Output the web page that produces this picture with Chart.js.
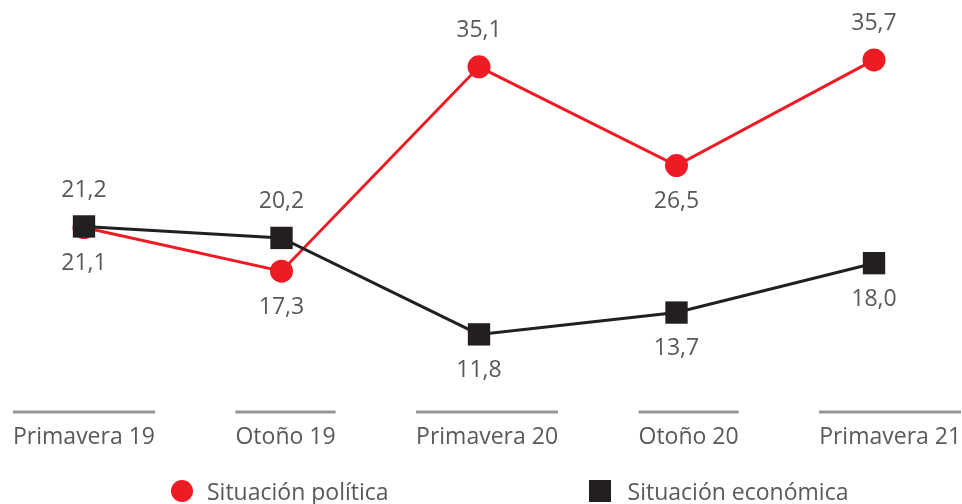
<!DOCTYPE html>
<html>
<head>
<meta charset="utf-8">
<script src="https://cdn.jsdelivr.net/npm/chart.js@4.4.1/dist/chart.umd.min.js"></script>
<style>
  html, body { margin: 0; padding: 0; background: #ffffff; }
  #wrap { position: relative; width: 962px; height: 504px; overflow: hidden; }
  #c { display: block; }
  #legend { position: absolute; left: 171px; top: 475px; height: 32px; display: flex; align-items: center;
            font-family: 'Open Sans', sans-serif; font-size: 23px; color: #58595B; white-space: nowrap; }
  .item { display: flex; align-items: center; }
  .item + .item { margin-left: 200px; }
  .mark { width: 22px; height: 22px; flex: none; }
  .mark.circle { border-radius: 50%; }
  .item .txt { margin-left: 14px; line-height: 32px; }
  .item + .item .txt { margin-left: 17px; }
</style>
</head>
<body>
<div id="wrap">
  <canvas id="c" width="962" height="504"></canvas>
  <div id="legend"></div>
</div>
<script>
// ---- data ----
const categories = ['Primavera 19', 'Otoño 19', 'Primavera 20', 'Otoño 20', 'Primavera 21'];
const seriesNames = ['Situación política', 'Situación económica'];
const politica = [21.1, 17.3, 35.1, 26.5, 35.7];
const economica = [21.2, 20.2, 11.8, 13.7, 18.0];

// ---- style ----
const RED = '#ED1C24';
const BLACK = '#231F20';
const TEXT = '#58595B';
const RULE = '#939598';
const FONT = "'Open Sans', sans-serif";

const valueLabels = {
  id: 'valueLabels',
  afterDatasetsDraw(chart) {
    const ctx = chart.ctx;
    ctx.save();
    ctx.font = "23px " + FONT;
    ctx.fillStyle = TEXT;
    ctx.textAlign = 'center';
    ctx.textBaseline = 'middle';
    chart.data.datasets.forEach((ds, di) => {
      const meta = chart.getDatasetMeta(di);
      meta.data.forEach((pt, i) => {
        const above = ds.labelAlign[i] === 'above';
        const y = pt.y + (above ? -ds.labelOffset : ds.labelOffset);
        ctx.fillText(ds.data[i].toFixed(1).replace('.', ','), pt.x, y);
      });
    });
    ctx.restore();
  }
};

const tickRules = {
  id: 'tickRules',
  afterDraw(chart) {
    const s = chart.scales.xl;
    const ctx = chart.ctx;
    ctx.save();
    ctx.font = Chart.helpers.toFont(s.options.ticks.font).string;
    ctx.strokeStyle = RULE;
    ctx.lineWidth = 3;
    const y = s.top + 11;
    s.ticks.forEach((t, i) => {
      const x = s.getPixelForTick(i);
      const w = ctx.measureText(categories[i]).width;
      ctx.beginPath();
      ctx.moveTo(x - w / 2, y);
      ctx.lineTo(x + w / 2, y);
      ctx.stroke();
    });
    ctx.restore();
  }
};

function draw() {
  const chart = new Chart(document.getElementById('c'), {
    type: 'line',
    data: {
      labels: categories,
      datasets: [
        {
          label: seriesNames[0], data: politica,
          borderColor: RED, backgroundColor: RED, borderWidth: 3, tension: 0,
          pointStyle: 'circle', pointRadius: 11.5, pointHoverRadius: 11.5, pointBorderWidth: 0,
          order: 2, clip: false,
          labelAlign: ['below', 'below', 'above', 'below', 'above'], labelOffset: 36
        },
        {
          label: seriesNames[1], data: economica,
          borderColor: BLACK, backgroundColor: BLACK, borderWidth: 3, tension: 0,
          pointStyle: 'rect', pointRadius: 15.8, pointHoverRadius: 15.8, pointBorderWidth: 0,
          order: 1, clip: false,
          labelAlign: ['above', 'above', 'below', 'below', 'below'], labelOffset: 36
        }
      ]
    },
    options: {
      responsive: false,
      animation: false,
      events: [],
      layout: { padding: { left: 84, right: 88, top: 22, bottom: 53 } },
      plugins: { legend: { display: false }, tooltip: { enabled: false } },
      scales: {
        x: { type: 'category', display: false, offset: false },
        xl: {
          type: 'linear', position: 'bottom', min: 0, max: 3.92,
          grid: { display: false, drawTicks: false },
          border: { display: false },
          ticks: {
            autoSkip: false, maxRotation: 0, minRotation: 0, padding: 23,
            color: TEXT, font: { family: FONT, size: 23 },
            callback: (v) => categories[v]
          },
          afterBuildTicks: (s) => { s.ticks = categories.map((c, i) => ({ value: i })); },
          afterFit: (s) => { s.height = 50; s.paddingLeft = 0; s.paddingRight = 0; }
        },
        y: { display: false, min: 6, max: 39 }
      }
    },
    plugins: [valueLabels, tickRules]
  });

  // HTML legend built from the chart's datasets
  const legend = document.getElementById('legend');
  chart.data.datasets.forEach((ds) => {
    const item = document.createElement('div');
    item.className = 'item';
    const mark = document.createElement('span');
    mark.className = 'mark' + (ds.pointStyle === 'circle' ? ' circle' : '');
    mark.style.background = ds.backgroundColor;
    const txt = document.createElement('span');
    txt.className = 'txt';
    txt.textContent = ds.label;
    item.appendChild(mark);
    item.appendChild(txt);
    legend.appendChild(item);
  });
}

if (document.fonts && document.fonts.load) {
  document.fonts.load("23px 'Open Sans'").then(draw, draw);
} else {
  draw();
}
</script>
</body>
</html>
